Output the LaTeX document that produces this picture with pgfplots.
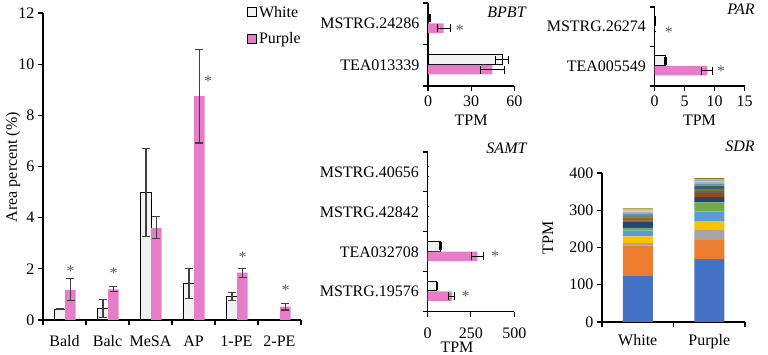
\documentclass[border=0pt]{standalone}
\usepackage{pgfplots}
\pgfplotsset{compat=1.18}
\usepackage{fontspec}
\setmainfont{Liberation Serif}
\definecolor{wbar}{RGB}{242,242,242}
\definecolor{pbar}{RGB}{231,125,201}
\definecolor{errc}{RGB}{64,64,64}
\definecolor{starc}{RGB}{89,89,89}
\definecolor{c1}{HTML}{4472C4}
\definecolor{c2}{HTML}{ED7D31}
\definecolor{c3}{HTML}{A5A5A5}
\definecolor{c4}{HTML}{FFC000}
\definecolor{c5}{HTML}{5B9BD5}
\definecolor{c6}{HTML}{70AD47}
\definecolor{c7}{HTML}{264478}
\definecolor{c8}{HTML}{9E480E}
\definecolor{c9}{HTML}{636363}
\definecolor{c10}{HTML}{997300}
\definecolor{c11}{HTML}{255E91}
\definecolor{c12}{HTML}{43682B}
\definecolor{c13}{HTML}{698ED0}
\definecolor{c14}{HTML}{F1975A}
\definecolor{c15}{HTML}{B7B7B7}
\definecolor{c16}{HTML}{FFCD33}
\definecolor{c17}{HTML}{7CAFDD}
\definecolor{c18}{HTML}{8CC168}
\newcommand{\fs}{\fontsize{16}{19}\selectfont}
\pgfplotsset{
  exc/.style={
    scale only axis, clip=false,
    axis lines=left, axis line style={-, line width=1.1pt, black},
    tick style={line width=1.1pt, black},
    tick align=outside, major tick length=5pt, minor tick length=5pt,
    every tick label/.append style={font=\fs, text=black},
    title style={font=\fs\itshape},
    /pgf/number format/assume math mode=true,
    /pgf/number format/1000 sep={},
  },
  wst/.style={fill=wbar, draw=black, line width=1pt},
  pst/.style={fill=pbar, draw=none},
  eby/.style={error bars/y dir=both, error bars/y explicit,
    error bars/error bar style={line width=1.1pt, errc},
    error bars/error mark options={rotate=90, line width=1.1pt, errc, mark size=4pt}},
  ebx/.style={error bars/x dir=both, error bars/x explicit,
    error bars/error bar style={line width=1.1pt, black},
    error bars/error mark options={rotate=90, line width=1.1pt, black, mark size=4pt}},
  stars/.style={sharp plot, bar shift=0pt, draw=none, forget plot, nodes near coords={*}, nodes near coords align={center},
    every node near coord/.append style={font=\fs, text=starc}},
  hpanel/.style={exc, xbar, major y tick style={draw=none}, xticklabel style={yshift=-1pt},
    every axis x label/.style={at={(axis description cs:0.5,0)}, anchor=center, yshift=-34pt, font=\fs}},
}
\begin{document}
\begin{tikzpicture}
\useasboundingbox (0pt,0pt) rectangle (768pt,355pt);
% ---------- left panel ----------
\begin{axis}[exc, ybar, at={(43pt,35pt)}, anchor=south west, width=258pt, height=307pt,
  xmin=-0.5, xmax=5.5, ymin=0, ymax=12, ytick={0,2,4,6,8,10,12},
  xtick={0,1,2,3,4,5}, xticklabels={Bald,Balc,MeSA,AP,1-PE,2-PE},
  major x tick style={draw=none}, minor xtick={-0.5,0.5,1.5,2.5,3.5,4.5,5.5},
  xticklabel style={yshift=-7pt},
  ylabel={Area percent (\%)},
  every axis y label/.style={at={(axis description cs:-0.116,0.498)}, rotate=90, anchor=center, font=\fs},
  legend style={at={(0.79,1.03)}, anchor=north west, draw=none, fill=none, font=\fs,
    inner sep=0pt, row sep=10pt},
  legend cell align=left,
  legend image code/.code={\draw[#1] (0pt,-4.5pt) rectangle (9pt,4.5pt);},
]
\addplot[bar width=11pt, bar shift=-4.5pt, wst, eby]
 coordinates {(0,0.42)+-(0,0.02) (1,0.45)+-(0,0.36) (2,5.0)+-(0,1.72) (3,1.43)+-(0,0.6) (4,0.93)+-(0,0.16)};
\addlegendentry{White}
\addplot[bar width=10.5pt, bar shift=6pt, pst, eby]
 coordinates {(0,1.18)+-(0,0.43) (1,1.2)+-(0,0.1) (2,3.6)+-(0,0.43) (3,8.75)+-(0,1.83) (4,1.85)+-(0,0.18) (5,0.52)+-(0,0.13)};
\addlegendentry{Purple}
\addplot[stars] coordinates {(0.14,1.91) (1.14,1.83) (3.34,9.34) (4.14,2.46) (5.14,1.17)};
\end{axis}
% ---------- BPBT ----------
\begin{axis}[hpanel, at={(428pt,269pt)}, anchor=south west, width=86.3pt, height=83pt,
  xmin=0, xmax=60, ymin=-0.5, ymax=1.5, xtick={0,30,60},
  ytick={0,1}, yticklabels={TEA013339,MSTRG.24286}, minor ytick={-0.5,0.5,1.5},
  xlabel={TPM},
  title={BPBT}, title style={at={(axis description cs:0.91,0.82)}, anchor=center},
]
\addplot[bar width=9.5pt, bar shift=5.5pt, wst, ebx]
 coordinates {(51.6,0)+-(4.6,0) (0.6,1)+-(0.8,0)};
\addplot[bar width=9.5pt, bar shift=-4.5pt, pst, ebx]
 coordinates {(44.7,0)+-(8.4,0) (10.9,1)+-(4.6,0)};
\addplot[stars] coordinates {(22.2,0.85)};
\end{axis}
% ---------- PAR ----------
\begin{axis}[hpanel, at={(654.5pt,269pt)}, anchor=south west, width=90pt, height=79pt,
  xmin=0, xmax=15, ymin=-0.5, ymax=1.5, xtick={0,5,10,15},
  ytick={0,1}, yticklabels={TEA005549,MSTRG.26274}, minor ytick={-0.5,0.5,1.5},
  xlabel={TPM},
  title={PAR}, title style={at={(axis description cs:0.96,0.89)}, anchor=center},
]
\addplot[bar width=9.5pt, bar shift=5.5pt, wst, ebx]
 coordinates {(1.8,0)+-(0.15,0) (0.15,1)+-(0.05,0)};
\addplot[bar width=9.5pt, bar shift=-4.5pt, pst, ebx]
 coordinates {(8.8,0)+-(0.9,0) (0.05,1)+-(0.02,0)};
\addplot[stars] coordinates {(2.4,0.867) (11.1,-0.12)};
\end{axis}
% ---------- SAMT ----------
\begin{axis}[hpanel, at={(427.5pt,43.3pt)}, anchor=south west, width=86.8pt, height=159.7pt,
  xmin=0, xmax=500, ymin=-0.5, ymax=3.5, xtick={0,250,500},
  ytick={0,1,2,3}, yticklabels={MSTRG.19576,TEA032708,MSTRG.42842,MSTRG.40656},
  minor ytick={-0.5,0.5,1.5,2.5,3.5},
  xlabel={TPM}, xticklabel style={yshift=-7pt},
  every axis x label/.style={at={(axis description cs:0.34,0)}, anchor=center, yshift=-36pt, font=\fs},
  title={SAMT}, title style={at={(axis description cs:0.91,0.985)}, anchor=center},
]
\addplot[bar width=9.5pt, bar shift=5.5pt, wst, ebx]
 coordinates {(54,0)+-(4,0) (77,1)+-(5,0) (1.5,2)+-(0.5,0) (1.5,3)+-(0.5,0)};
\addplot[bar width=9.5pt, bar shift=-4.5pt, pst, ebx]
 coordinates {(140,0)+-(18,0) (287,1)+-(36,0) (0.5,2)+-(0.2,0) (0.5,3)+-(0.2,0)};
\addplot[stars] coordinates {(220,-0.107) (389,0.895)};
\end{axis}
% ---------- SDR ----------
\begin{axis}[exc, at={(602pt,33pt)}, anchor=south west, width=143pt, height=149pt,
  xmin=-0.5, xmax=1.5, ymin=0, ymax=400, ytick={0,100,200,300,400},
  ybar stacked, bar width=30pt,
  xtick={0,1}, xticklabels={White,Purple},
  major x tick style={draw=none}, minor xtick={-0.5,0.5,1.5},
  xticklabel style={yshift=-4pt},
  ylabel={TPM},
  every axis y label/.style={at={(axis description cs:-0.378,0.564)}, rotate=90, anchor=center, font=\fs},
  title={SDR}, title style={at={(axis description cs:0.965,1.14)}, anchor=center},
]
\addplot[fill=c1, draw=none] coordinates {(0,123) (1,169)};
\addplot[fill=c2, draw=none] coordinates {(0,82) (1,51)};
\addplot[fill=c3, draw=none] coordinates {(0,7) (1,27)};
\addplot[fill=c4, draw=none] coordinates {(0,18) (1,24)};
\addplot[fill=c5, draw=none] coordinates {(0,16) (1,25)};
\addplot[fill=c6, draw=none] coordinates {(0,7) (1,25)};
\addplot[fill=c7, draw=none] coordinates {(0,17) (1,14)};
\addplot[fill=c8, draw=none] coordinates {(0,3) (1,11)};
\addplot[fill=c9, draw=none] coordinates {(0,4) (1,6)};
\addplot[fill=c10, draw=none] coordinates {(0,3) (1,5)};
\addplot[fill=c11, draw=none] coordinates {(0,3) (1,5)};
\addplot[fill=c12, draw=none] coordinates {(0,3) (1,4)};
\addplot[fill=c13, draw=none] coordinates {(0,4) (1,4)};
\addplot[fill=c14, draw=none] coordinates {(0,3) (1,3)};
\addplot[fill=c15, draw=none] coordinates {(0,3) (1,3)};
\addplot[fill=c16, draw=none] coordinates {(0,3) (1,3)};
\addplot[fill=c17, draw=none] coordinates {(0,3) (1,3)};
\addplot[fill=c18, draw=none] coordinates {(0,2) (1,2)};
\addplot[fill=c10, draw=none] coordinates {(0,1) (1,2)};
\end{axis}
\end{tikzpicture}
\end{document}
